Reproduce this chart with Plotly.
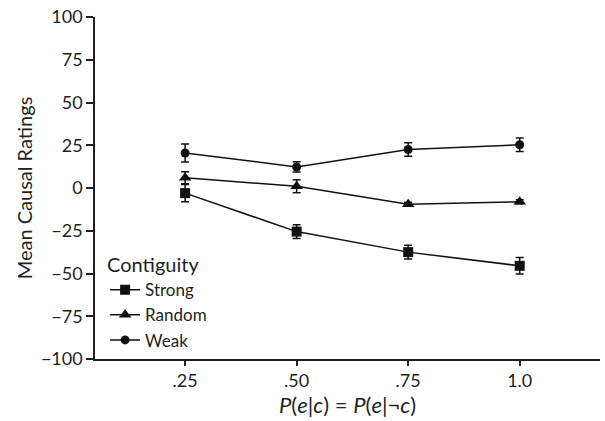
import plotly.graph_objects as go

x_vals = [0.25, 0.50, 0.75, 1.0]
x_ticklabels = [".25", ".50", ".75", "1.0"]

strong = [-3, -25.5, -37.5, -45.5]
strong_err = [5, 4, 4, 4.8]
random_ = [6, 1, -9.5, -8]
random_err = [3.5, 3.8, 1.2, 1.2]
weak = [20.5, 12.3, 22.5, 25.3]
weak_err = [5.3, 3, 3.9, 3.9]

series = [
    ("Strong", strong, strong_err, "square", 10),
    ("Random", random_, random_err, "triangle-up", 11),
    ("Weak", weak, weak_err, "circle", 9),
]

font = "Lato, 'Open Sans', sans-serif"
fig = go.Figure()
for name, vals, errs, sym, size in series:
    fig.add_trace(go.Scatter(
        x=x_vals, y=vals, name=name, mode="lines+markers",
        line=dict(color="#111111", width=1.5),
        marker=dict(symbol=sym, size=size, color="#111111"),
        error_y=dict(type="data", array=errs, visible=True, color="#111111",
                     thickness=1.5, width=4),
    ))

fig.update_layout(
    width=605, height=421,
    margin=dict(l=95, r=5, t=17, b=62),
    paper_bgcolor="white", plot_bgcolor="white",
    font=dict(family=font, size=18, color="#231f20"),
    showlegend=True,
    legend=dict(
        title=dict(text="Contiguity", font=dict(size=20)),
        x=0.02, y=0.33, xanchor="left", yanchor="top",
        font=dict(size=17), tracegroupgap=0, itemwidth=30,
        bgcolor="rgba(0,0,0,0)",
    ),
    xaxis=dict(
        range=[0.048, 1.18], tickvals=x_vals, ticktext=x_ticklabels,
        showgrid=False, zeroline=False, showline=True, linecolor="#231f20",
        linewidth=1.5, ticks="outside", ticklen=5, tickwidth=1.5, tickcolor="#231f20",
        tickfont=dict(size=18), automargin=False,
        title=dict(text="<i>P</i>(<i>e</i>|<i>c</i>) = <i>P</i>(<i>e</i>|¬<i>c</i>)",
                   font=dict(size=22), standoff=2),
    ),
    yaxis=dict(
        range=[-100, 100], tickvals=[100, 75, 50, 25, 0, -25, -50, -75, -100],
        ticktext=["100", "75", "50", "25", "0", "−25", "−50", "−75", "−100"],
        showgrid=False, zeroline=False, showline=True, linecolor="#231f20",
        linewidth=1.5, ticks="outside", ticklen=7, tickwidth=1.5, tickcolor="#231f20",
        tickfont=dict(size=18), automargin=False,
        title=dict(text="Mean Causal Ratings", font=dict(size=20), standoff=3),
    ),
)

fig.write_html(
    "out.html",
    config={"displayModeBar": False},
    post_script="document.body.style.margin='0';document.body.style.padding='0';",
)
